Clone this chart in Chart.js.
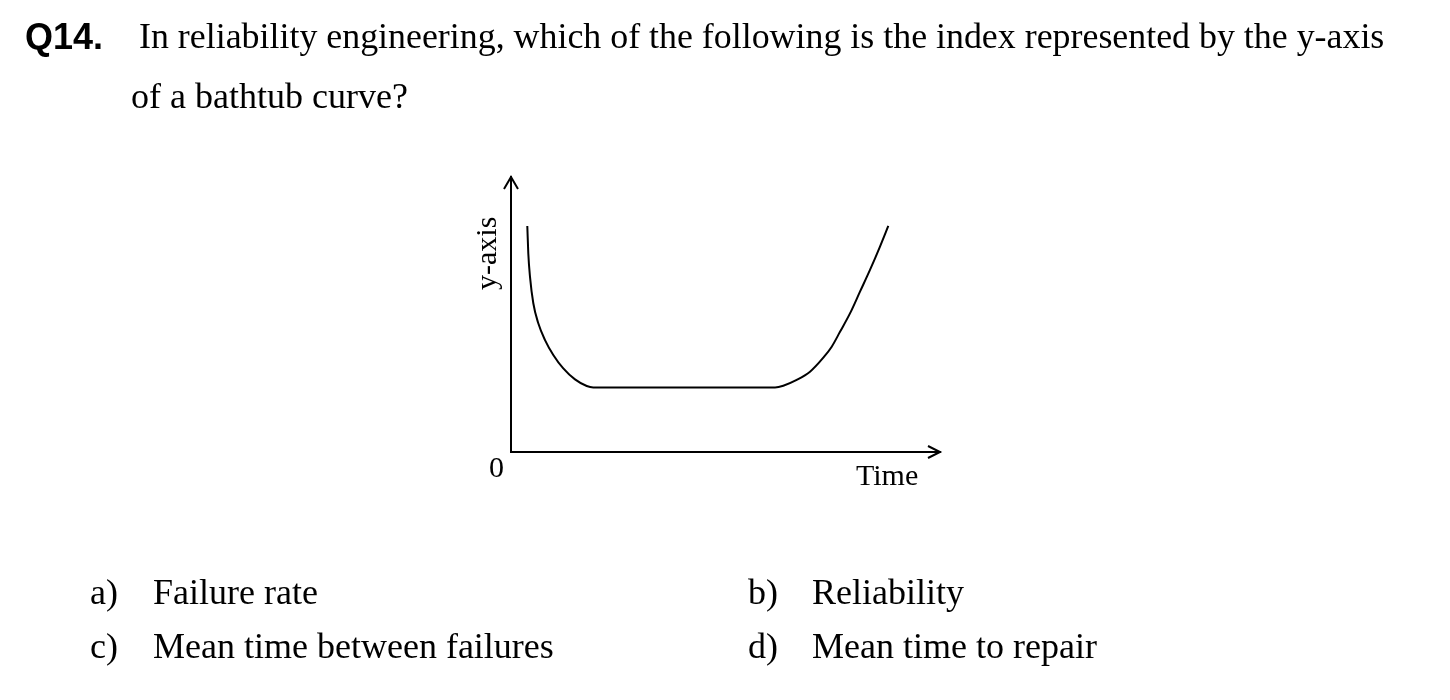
<!DOCTYPE html>
<html>
<head>
<meta charset="utf-8">
<script src="https://cdn.jsdelivr.net/npm/chart.js@4/dist/chart.umd.min.js"></script>
<style>
  html, body { margin: 0; padding: 0; background: #fff; }
  body { width: 1450px; height: 700px; position: relative; overflow: hidden; }
  #c { position: absolute; left: 0; top: 0; }
  .t { position: absolute; white-space: nowrap; line-height: 1; color: #000;
       font-family: "Liberation Serif", "Times New Roman", serif; font-size: 36px; }
  .q { font-family: "Liberation Sans", Arial, sans-serif; font-weight: bold; }
  .s { font-size: 30px; }
</style>
</head>
<body>
<canvas id="c" width="1450" height="700"></canvas>

<div class="t q" style="left:25px; top:18.5px;">Q14.</div>
<div class="t" style="left:139px; top:18.9px; font-size:35.88px;">In reliability engineering, which of the following is the index represented by the y-axis</div>
<div class="t" style="left:131px; top:77.9px;">of a bathtub curve?</div>

<div class="t s" style="left:489px; top:452px;">0</div>
<div class="t s" style="left:856px; top:460px;">Time</div>
<div class="t s" style="left:471px; top:290px; transform-origin:0 0; transform:rotate(-90deg);">y-axis</div>

<div class="t" style="left:90px; top:573.9px;">a)</div>
<div class="t" style="left:153px; top:573.9px;">Failure rate</div>
<div class="t" style="left:748px; top:573.9px;">b)</div>
<div class="t" style="left:812px; top:573.9px;">Reliability</div>
<div class="t" style="left:90px; top:627.9px;">c)</div>
<div class="t" style="left:153px; top:627.9px;">Mean time between failures</div>
<div class="t" style="left:748px; top:627.9px;">d)</div>
<div class="t" style="left:812px; top:627.9px;">Mean time to repair</div>

<script>
// Bathtub curve values (time, index)
const timeValues = [3.80, 4.03, 4.43, 5.20, 6.36, 7.93, 9.86, 12.19, 14.92, 17.65, 19.18,
                    61.54, 63.47, 66.60, 69.70, 72.80, 74.76, 76.69, 79.02, 81.35, 83.68, 86.01, 87.95];
const indexValues = [82.2, 72.3, 63.7, 54.1, 46.8, 40.7, 35.3, 30.4, 26.4, 24.0, 23.5,
                     23.5, 24.1, 26.2, 29.2, 34.3, 38.3, 43.7, 50.4, 58.3, 66.2, 74.7, 82.2];
const xRange = [0, 100];
const yRange = [0, 100];

const points = timeValues.map((t, i) => ({ x: t, y: indexValues[i] }));

const arrowPlugin = {
  id: 'axisArrows',
  afterDraw(chart) {
    const ctx = chart.ctx;
    const xs = chart.scales.x, ys = chart.scales.y;
    const ox = xs.getPixelForValue(xs.min), oy = ys.getPixelForValue(ys.min);
    const tx = xs.getPixelForValue(xs.max), ty = ys.getPixelForValue(ys.max);
    ctx.save();
    ctx.strokeStyle = '#000';
    ctx.lineWidth = 2;
    ctx.lineCap = 'butt';
    ctx.lineJoin = 'miter';
    ctx.beginPath();
    ctx.moveTo(ox - 7, ty + 12); ctx.lineTo(ox, ty); ctx.lineTo(ox + 7, ty + 12);
    ctx.moveTo(tx - 12, oy - 6); ctx.lineTo(tx, oy); ctx.lineTo(tx - 12, oy + 6);
    ctx.stroke();
    ctx.restore();
  }
};

new Chart(document.getElementById('c'), {
  type: 'line',
  data: {
    datasets: [{
      data: points,
      borderColor: '#000',
      borderWidth: 2,
      pointRadius: 0,
      fill: false,
      cubicInterpolationMode: 'monotone'
    }]
  },
  options: {
    responsive: false,
    animation: false,
    devicePixelRatio: 1,
    layout: { padding: { left: 511, top: 177, right: 510, bottom: 248 } },
    plugins: { legend: { display: false }, tooltip: { enabled: false }, title: { display: false } },
    scales: {
      x: {
        type: 'linear', min: xRange[0], max: xRange[1],
        grid: { display: false, drawTicks: false },
        ticks: { display: false },
        border: { display: true, color: '#000', width: 2 }
      },
      y: {
        type: 'linear', min: yRange[0], max: yRange[1],
        grid: { display: false, drawTicks: false },
        ticks: { display: false },
        border: { display: true, color: '#000', width: 2 }
      }
    }
  },
  plugins: [arrowPlugin]
});
</script>
</body>
</html>
